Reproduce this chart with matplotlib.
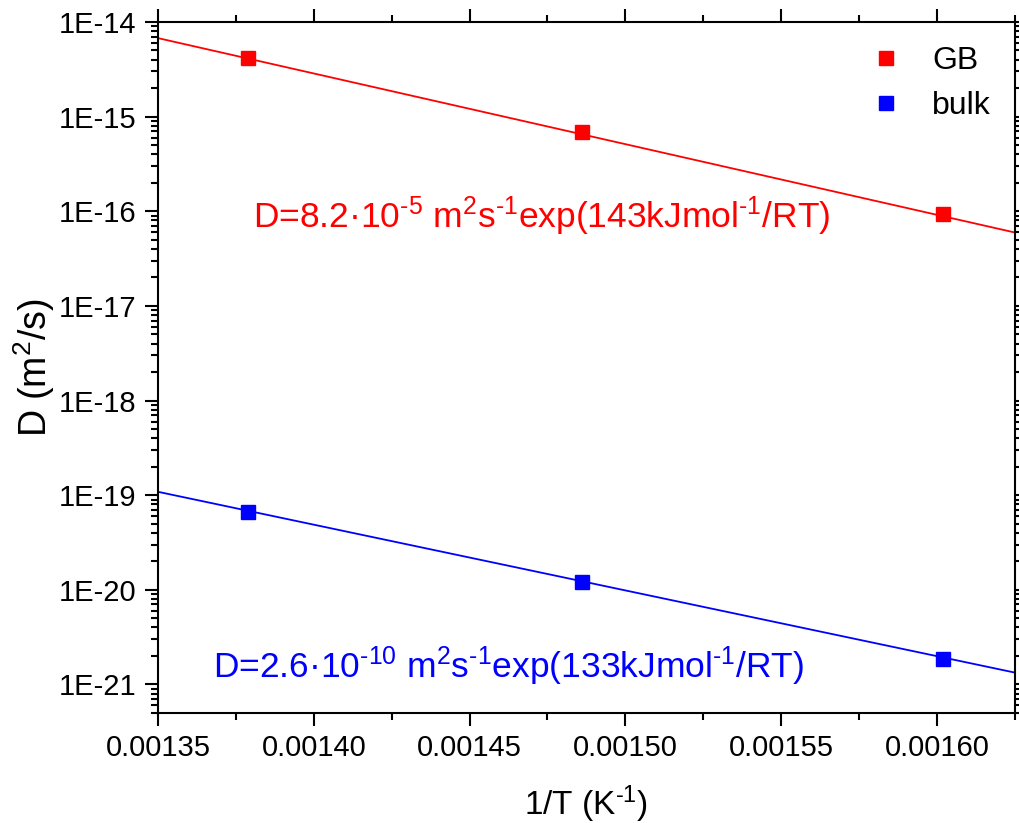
import numpy as np
import matplotlib
matplotlib.use("Agg")
import matplotlib.pyplot as plt
import matplotlib.ticker as mtick

plt.rcParams['font.family'] = ['Liberation Sans', 'DejaVu Sans']
plt.rcParams['mathtext.fontset'] = 'custom'
plt.rcParams['mathtext.rm'] = 'Liberation Sans'
plt.rcParams['mathtext.it'] = 'Liberation Sans'
plt.rcParams['mathtext.default'] = 'regular'

R = 8.314  # J/(mol K)

# measured points (1/T in 1/K, D in m^2/s)
inv_T = [0.001379, 0.001486, 0.001602]
D_gb = [4.2e-15, 6.9e-16, 9.3e-17]
D_bulk = [6.6e-20, 1.22e-20, 1.88e-21]

# Arrhenius fit parameters
D0_gb, Q_gb = 8.2e-5, 143e3
D0_bulk, Q_bulk = 2.6e-10, 133e3

xlim = (0.00135, 0.001625)
ylim = (5e-22, 1e-14)
decades = np.arange(-21, -13)

fig = plt.figure(figsize=(10.19, 8.23), dpi=100)
ax = fig.add_axes([0.155, 0.1337, 0.841, 0.8396])

xf = np.linspace(xlim[0], xlim[1], 200)
ax.plot(xf, D0_gb * np.exp(-Q_gb * xf / R), color='red', lw=1.3)
ax.plot(xf, D0_bulk * np.exp(-Q_bulk * xf / R), color='blue', lw=1.3)
ax.plot(inv_T, D_gb, 's', color='red', ms=10.5, label='GB')
ax.plot(inv_T, D_bulk, 's', color='blue', ms=10.5, label='bulk')

ax.set_yscale('log')
ax.set_xlim(*xlim)
ax.set_ylim(*ylim)

ax.xaxis.set_major_locator(mtick.FixedLocator(np.arange(0.00135, 0.001601, 0.00005)))
ax.xaxis.set_minor_locator(mtick.FixedLocator(np.arange(0.001375, 0.001626, 0.00005)))
ax.xaxis.set_major_formatter(mtick.FormatStrFormatter('%.5f'))
ax.yaxis.set_major_locator(mtick.FixedLocator(10.0 ** decades))
minors = [m * 10.0 ** d for d in range(-22, -14) for m in range(2, 10)]
minors = [v for v in minors if ylim[0] <= v <= ylim[1]]
ax.yaxis.set_minor_locator(mtick.FixedLocator(minors))
ax.yaxis.set_minor_formatter(mtick.NullFormatter())
ax.yaxis.set_major_formatter(mtick.FuncFormatter(lambda v, p: '1E%d' % round(np.log10(v))))

for s in ax.spines.values():
    s.set_linewidth(1.5)
ax.tick_params(which='both', direction='out', top=True, right=True, width=1.5, labelsize=21, pad=6)
ax.tick_params(which='major', length=9.5)
ax.tick_params(which='minor', length=5)

hy = '\u2010'  # short hyphen for the exponents
ax.set_xlabel('1/T (K$^{' + hy + '1}$)', fontsize=24, labelpad=15)
ax.set_ylabel('D (m$^2$/s)', fontsize=27, labelpad=1)

ax.text(0.111, 0.702, 'D=8.2\u00b710$^{' + hy + '5}$ m$^2$s$^{' + hy + '1}$exp(143kJmol$^{' + hy + '1}$/RT)',
        transform=ax.transAxes, color='red', fontsize=25.5, va='baseline')
ax.text(0.064, 0.051, 'D=2.6\u00b710$^{' + hy + '10}$ m$^2$s$^{' + hy + '1}$exp(133kJmol$^{' + hy + '1}$/RT)',
        transform=ax.transAxes, color='blue', fontsize=25.5, va='baseline')

ax.legend(loc='upper right', frameon=False, fontsize=23, handletextpad=0.94,
          borderaxespad=0.35, labelspacing=0.48, handlelength=1.0)

plt.savefig('out.png', dpi=100)
